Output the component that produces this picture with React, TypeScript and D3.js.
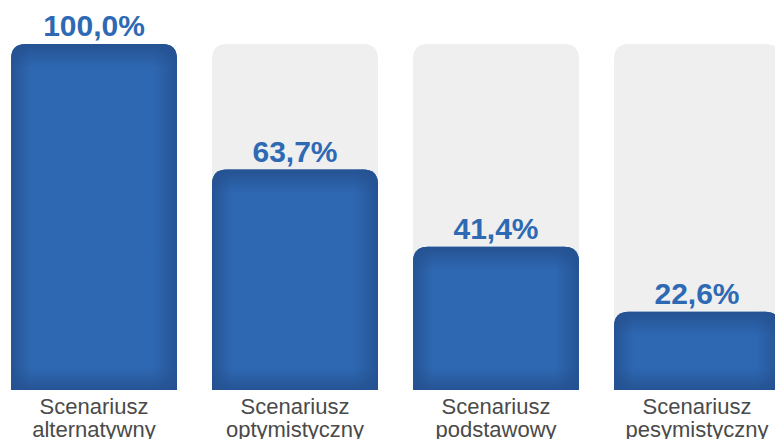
import React from "react";
import * as d3 from "d3";

const categoriesLine1 = ["Scenariusz", "Scenariusz", "Scenariusz", "Scenariusz"];
const categoriesLine2 = ["alternatywny", "optymistyczny", "podstawowy", "pesymistyczny"];
const values = [100.0, 63.7, 41.4, 22.6];
const maxValue = 100;

const W = 775;
const H = 439;

export default function App() {
  const x = d3
    .scaleBand<number>()
    .domain(values.map((_, i) => i))
    .range([11, 11 + 201 * 4 - 35])
    .paddingInner(35 / 201)
    .paddingOuter(0);
  const bw = x.bandwidth();
  const y = d3.scaleLinear().domain([0, maxValue]).range([390, 44]);
  const r = 15;

  const topRounded = (x0: number, y0: number, w: number, h: number) => {
    const rr = Math.min(r, h);
    const p = d3.path();
    p.moveTo(x0, y0 + h);
    p.lineTo(x0, y0 + rr);
    p.quadraticCurveTo(x0, y0, x0 + rr, y0);
    p.lineTo(x0 + w - rr, y0);
    p.quadraticCurveTo(x0 + w, y0, x0 + w, y0 + rr);
    p.lineTo(x0 + w, y0 + h);
    p.closePath();
    return p.toString();
  };

  const fmt = (v: number) => v.toFixed(1).replace(".", ",") + "%";

  return (
    <svg width={W} height={H} style={{ position: "absolute", left: 0, top: 0 }}>
      <defs>
        {values.map((v, i) => {
          const x0 = x(i)!;
          const y0 = y(v);
          const y1 = y(0);
          return (
            <React.Fragment key={i}>
              <linearGradient id={`h${i}`} gradientUnits="userSpaceOnUse" x1={x0} x2={x0 + bw} y1={0} y2={0}>
                <stop offset="0" stopColor="#24508f" stopOpacity="0.85" />
                <stop offset={20 / bw} stopColor="#24508f" stopOpacity="0" />
                <stop offset={1 - 24 / bw} stopColor="#24508f" stopOpacity="0" />
                <stop offset="1" stopColor="#24508f" stopOpacity="0.85" />
              </linearGradient>
              <linearGradient id={`v${i}`} gradientUnits="userSpaceOnUse" x1={0} x2={0} y1={y0} y2={y1}>
                <stop offset="0" stopColor="#24508f" stopOpacity="0.9" />
                <stop offset={Math.min(0.45, 24 / (y1 - y0))} stopColor="#24508f" stopOpacity="0" />
                <stop offset={Math.max(0.55, 1 - 22 / (y1 - y0))} stopColor="#24508f" stopOpacity="0" />
                <stop offset="1" stopColor="#24508f" stopOpacity="0.85" />
              </linearGradient>
            </React.Fragment>
          );
        })}
      </defs>
      {values.map((v, i) => {
        const x0 = x(i)!;
        const y0 = y(v);
        const h = y(0) - y0;
        const cx = x0 + bw / 2;
        return (
          <g key={i}>
            <path d={topRounded(x0, y(maxValue), bw, y(0) - y(maxValue))} fill="#efefef" />
            <path d={topRounded(x0, y0, bw, h)} fill="#2e68b2" />
            <path d={topRounded(x0, y0, bw, h)} fill={`url(#h${i})`} />
            <path d={topRounded(x0, y0, bw, h)} fill={`url(#v${i})`} />
            <text
              x={cx}
              y={y0 - 8}
              textAnchor="middle"
              fontFamily="'Liberation Sans', Arial, sans-serif"
              fontWeight="bold"
              fontSize={30}
              fill="#2e69b4"
            >
              {fmt(v)}
            </text>
            <text
              x={cx}
              y={414}
              textAnchor="middle"
              fontFamily="'Liberation Sans', Arial, sans-serif"
              fontSize={22}
              fill="#4a4a4a"
            >
              {categoriesLine1[i]}
            </text>
            <text
              x={cx}
              y={437}
              textAnchor="middle"
              fontFamily="'Liberation Sans', Arial, sans-serif"
              fontSize={22}
              fill="#4a4a4a"
            >
              {categoriesLine2[i]}
            </text>
          </g>
        );
      })}
    </svg>
  );
}
